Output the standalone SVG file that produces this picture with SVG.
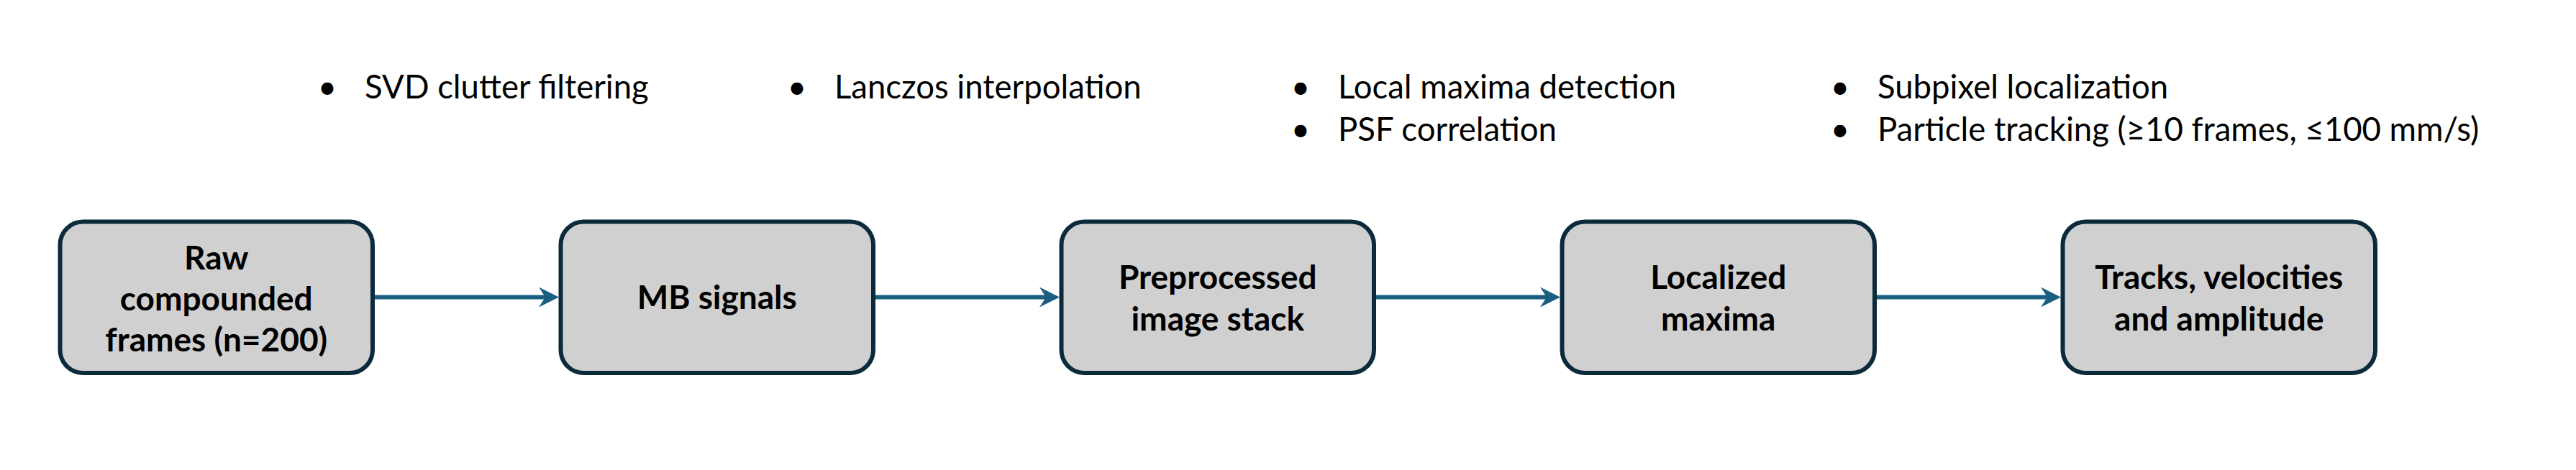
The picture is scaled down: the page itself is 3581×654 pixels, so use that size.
<svg xmlns="http://www.w3.org/2000/svg" width="3581" height="654" viewBox="0 0 3581 654">
<style>
.box{fill:#d0d0d0;stroke:#0b2a3c;stroke-width:6}
.lbl{font-family:Lato,"Open Sans",sans-serif;font-weight:700;font-size:46px;fill:#000;text-anchor:middle}
.note{font-family:Lato,"Open Sans",sans-serif;font-size:45.5px;fill:#000}
.bul{font-family:Lato,"Open Sans",sans-serif;font-size:45.5px;fill:#000;text-anchor:middle}
.conn{stroke:#1a5f82;stroke-width:6;fill:none;marker-end:url(#ah)}
</style>
<defs>
<marker id="ah" markerUnits="userSpaceOnUse" markerWidth="30" markerHeight="30" refX="14" refY="15" orient="auto">
<path d="M0,1 L28,15 L0,29 L9,15 z" fill="#1a5f82"/>
</marker>
</defs>
<rect width="3581" height="654" fill="#ffffff"/>
<g id="notes">
<text class="bul" x="455" y="137">•</text><text class="note" x="507" y="137">SVD clutter filtering</text>
<text class="bul" x="1108" y="137">•</text><text class="note" x="1160" y="137">Lanczos interpolation</text>
<text class="bul" x="1808" y="137">•</text><text class="note" x="1860" y="137">Local maxima detection</text>
<text class="bul" x="1808" y="196">•</text><text class="note" x="1860" y="196">PSF correlation</text>
<text class="bul" x="2558" y="137">•</text><text class="note" x="2610" y="137">Subpixel localization</text>
<text class="bul" x="2558" y="196">•</text><text class="note" x="2610" y="196">Particle tracking (≥10 frames, ≤100 mm/s)</text>
</g>
<g id="connectors">
<line class="conn" x1="521" y1="413.5" x2="763" y2="413.5"/>
<line class="conn" x1="1217" y1="413.5" x2="1459" y2="413.5"/>
<line class="conn" x1="1913" y1="413.5" x2="2155" y2="413.5"/>
<line class="conn" x1="2609" y1="413.5" x2="2851" y2="413.5"/>
</g>
<g id="node1">
<rect class="box" x="83.5" y="308.5" width="434.5" height="210.5" rx="32" ry="32"/>
<text class="lbl" x="300.75" y="375">Raw</text>
<text class="lbl" x="300.75" y="432">compounded</text>
<text class="lbl" x="300.75" y="489">frames (n=200)</text>
</g>
<g id="node2">
<rect class="box" x="779.5" y="308.5" width="434.5" height="210.5" rx="32" ry="32"/>
<text class="lbl" x="996.75" y="430">MB signals</text>
</g>
<g id="node3">
<rect class="box" x="1475.5" y="308.5" width="434.5" height="210.5" rx="32" ry="32"/>
<text class="lbl" x="1692.75" y="402">Preprocessed</text>
<text class="lbl" x="1692.75" y="460">image stack</text>
</g>
<g id="node4">
<rect class="box" x="2171.5" y="308.5" width="434.5" height="210.5" rx="32" ry="32"/>
<text class="lbl" x="2388.75" y="402">Localized</text>
<text class="lbl" x="2388.75" y="460">maxima</text>
</g>
<g id="node5">
<rect class="box" x="2867.5" y="308.5" width="434.5" height="210.5" rx="32" ry="32"/>
<text class="lbl" x="3084.75" y="402">Tracks, velocities</text>
<text class="lbl" x="3084.75" y="460">and amplitude</text>
</g>
</svg>
